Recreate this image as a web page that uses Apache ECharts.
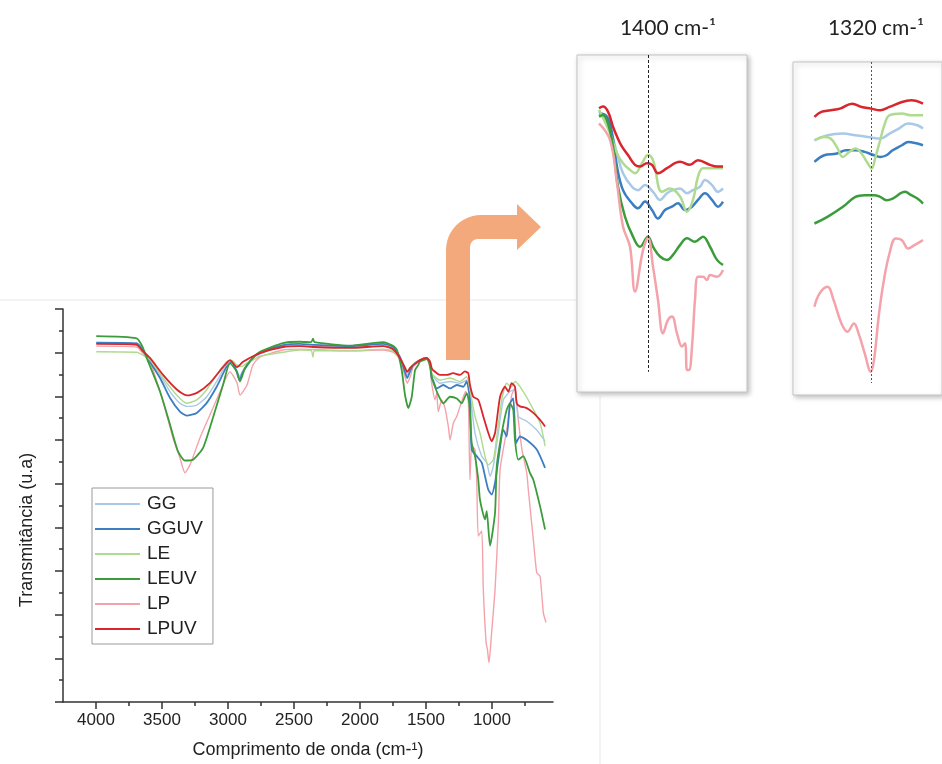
<!DOCTYPE html>
<html>
<head>
<meta charset="utf-8">
<script src="https://cdn.jsdelivr.net/npm/echarts@6/dist/echarts.min.js"></script>
<style>
  html, body { margin: 0; padding: 0; background: #fff; }
  #chart { width: 942px; height: 764px; }
</style>
</head>
<body>
<div id="chart"></div>
<script>
// series names and colours
const names = ['GG', 'GGUV', 'LE', 'LEUV', 'LP', 'LPUV'];
const colors = ['#a9c9e6', '#3c7ec2', '#aedb8e', '#3b9c3b', '#f4a3ab', '#d8262c'];

// main spectrum: [wavenumber cm-1, transmittance (u.a)]
const ggMain = [[3998,8.23],[3692,8.22],[3650,8.10],[3616,7.95],[3515,7.49],[3439,7.11],[3364,6.84],[3313,6.77],[3237,6.80],[3161,6.99],[3086,7.34],[3010,7.74],[2972,7.81],[2934,7.60],[2914,7.45],[2886,7.60],[2811,7.88],[2758,7.97],[2583,8.15],[2455,8.16],[2356,8.15],[2076,8.12],[1826,8.16],[1750,8.10],[1697,7.90],[1659,7.62],[1642,7.49],[1620,7.60],[1596,7.72],[1545,7.83],[1495,7.88],[1470,7.78],[1457,7.50],[1447,7.45],[1394,7.30],[1318,7.34],[1242,7.30],[1192,7.37],[1167,7.07],[1129,6.16],[1078,5.63],[1040,5.48],[1015,5.17],[990,5.40],[952,6.16],[914,6.92],[864,7.11],[826,7.15],[801,6.54],[737,6.43],[661,6.23],[598,5.97]];
const gguvMain = [[3998,8.23],[3692,8.21],[3650,8.08],[3616,7.91],[3515,7.42],[3439,6.96],[3364,6.65],[3313,6.56],[3237,6.62],[3161,6.85],[3086,7.22],[3010,7.68],[2972,7.79],[2934,7.56],[2914,7.37],[2886,7.56],[2811,7.88],[2758,8.00],[2583,8.17],[2455,8.20],[2356,8.18],[2076,8.15],[1826,8.20],[1750,8.13],[1697,7.90],[1659,7.55],[1642,7.42],[1620,7.58],[1596,7.72],[1545,7.83],[1495,7.88],[1470,7.76],[1457,7.42],[1447,7.37],[1419,7.18],[1369,7.26],[1318,7.18],[1267,7.26],[1217,7.22],[1192,7.34],[1167,6.92],[1154,5.78],[1116,5.63],[1078,5.48],[1053,5.17],[1028,4.86],[1003,4.75],[977,5.02],[952,5.55],[914,6.23],[889,6.08],[864,6.84],[839,6.95],[818,5.93],[788,6.08],[737,6.00],[661,5.78],[598,5.36]];
const leMain = [[3998,8.02],[3692,8.01],[3667,7.98],[3591,7.83],[3492,7.42],[3389,7.03],[3313,6.84],[3237,6.92],[3161,7.15],[3086,7.49],[3010,7.79],[2972,7.83],[2934,7.72],[2896,7.68],[2858,7.76],[2811,7.83],[2758,7.92],[2583,8.01],[2455,8.06],[2370,8.05],[2356,7.90],[2345,8.05],[2076,8.04],[1826,8.08],[1750,8.04],[1697,7.88],[1659,7.66],[1642,7.58],[1620,7.66],[1596,7.74],[1545,7.83],[1495,7.88],[1470,7.80],[1457,7.55],[1447,7.49],[1394,7.37],[1318,7.42],[1242,7.34],[1192,7.45],[1167,7.15],[1129,6.54],[1091,6.16],[1053,5.63],[1028,5.43],[990,5.55],[964,6.08],[926,6.92],[889,7.30],[851,7.22],[826,7.34],[788,7.22],[712,6.84],[636,6.39],[598,5.86]];
const leuvMain = [[3998,8.38],[3692,8.33],[3650,8.15],[3616,7.88],[3515,7.11],[3439,6.35],[3379,5.74],[3326,5.53],[3265,5.55],[3189,5.82],[3114,6.51],[3038,7.26],[2985,7.76],[2932,7.56],[2909,7.34],[2871,7.65],[2811,7.88],[2758,8.02],[2583,8.22],[2455,8.25],[2370,8.24],[2356,8.32],[2345,8.24],[2076,8.16],[1826,8.24],[1750,8.16],[1720,8.06],[1684,7.60],[1659,7.03],[1634,6.73],[1608,6.99],[1583,7.60],[1558,7.72],[1545,7.80],[1495,7.85],[1470,7.70],[1457,7.45],[1447,7.34],[1407,7.03],[1369,6.84],[1318,6.99],[1267,6.95],[1230,6.84],[1192,7.07],[1172,6.84],[1154,5.93],[1129,5.63],[1104,5.09],[1091,4.63],[1053,4.18],[1040,4.37],[1015,3.58],[977,4.34],[964,5.40],[926,6.16],[889,6.69],[864,6.84],[839,6.69],[826,6.00],[801,5.55],[763,5.63],[712,5.24],[687,5.09],[636,4.48],[598,3.95]];
const lpMain = [[3998,8.15],[3692,8.13],[3650,8.00],[3591,7.79],[3492,6.88],[3417,6.05],[3364,5.59],[3326,5.25],[3288,5.43],[3212,6.05],[3136,6.58],[3061,7.10],[2985,7.56],[2932,7.31],[2909,7.03],[2856,7.26],[2811,7.72],[2758,7.90],[2583,8.06],[2455,8.08],[2076,8.04],[1826,8.06],[1750,8.01],[1697,7.85],[1659,7.45],[1642,7.30],[1620,7.45],[1596,7.68],[1545,7.80],[1495,7.85],[1470,7.65],[1457,7.30],[1432,6.92],[1419,7.07],[1407,6.65],[1381,6.92],[1356,6.73],[1331,6.31],[1318,6.00],[1293,6.39],[1267,6.54],[1242,6.77],[1217,6.99],[1200,7.11],[1180,6.95],[1167,5.09],[1154,5.86],[1129,5.78],[1116,5.09],[1104,3.80],[1078,3.92],[1066,2.58],[1045,1.36],[1035,1.21],[1023,0.90],[1003,1.59],[977,2.58],[952,4.10],[939,5.32],[902,6.00],[876,6.46],[851,7.03],[826,7.19],[801,6.46],[773,5.78],[737,5.25],[725,4.86],[687,3.72],[661,2.96],[636,2.88],[611,2.04],[591,1.82]];
const lpuvMain = [[3998,8.20],[3692,8.18],[3650,8.05],[3591,7.88],[3492,7.49],[3386,7.15],[3311,7.02],[3235,7.08],[3136,7.31],[3038,7.67],[2985,7.83],[2932,7.67],[2886,7.79],[2758,7.99],[2583,8.13],[2455,8.15],[2356,8.13],[2076,8.11],[1826,8.15],[1750,8.08],[1697,7.88],[1659,7.65],[1642,7.56],[1620,7.65],[1596,7.72],[1545,7.83],[1495,7.88],[1470,7.80],[1457,7.65],[1447,7.60],[1394,7.49],[1343,7.49],[1295,7.53],[1242,7.49],[1205,7.57],[1180,7.53],[1167,7.26],[1142,6.99],[1104,6.92],[1066,6.54],[1028,6.16],[1003,5.97],[977,6.16],[939,6.99],[902,7.22],[876,7.11],[851,7.30],[826,7.22],[813,6.84],[788,6.77],[737,6.73],[687,6.62],[636,6.46],[598,6.31]];

// inset "1400 cm-1"
const gg1400 = [[1449,8.32],[1440,8.00],[1431,7.08],[1425,6.49],[1416,6.09],[1410,5.99],[1403,6.14],[1395,5.94],[1388,5.70],[1381,5.90],[1375,5.99],[1368,6.04],[1361,5.90],[1355,5.99],[1348,6.09],[1343,6.29],[1336,6.14],[1330,5.94],[1325,6.04]];
const gguv1400 = [[1449,8.27],[1441,8.17],[1436,7.68],[1431,6.69],[1425,5.99],[1416,5.60],[1410,5.45],[1403,5.65],[1396,5.40],[1390,5.15],[1383,5.40],[1376,5.50],[1370,5.60],[1363,5.40],[1356,5.50],[1350,5.70],[1343,5.90],[1336,5.70],[1330,5.50],[1325,5.65]];
const le1400 = [[1449,8.37],[1438,7.68],[1431,7.08],[1425,6.79],[1418,6.59],[1413,6.49],[1406,6.79],[1400,7.03],[1395,6.88],[1386,5.94],[1378,6.04],[1368,5.80],[1361,5.35],[1355,5.70],[1350,6.39],[1345,6.64],[1335,6.64],[1325,6.64]];
const leuv1400 = [[1449,8.17],[1445,8.22],[1440,7.97],[1435,7.28],[1430,6.09],[1423,5.20],[1415,4.61],[1408,4.31],[1400,4.61],[1395,4.31],[1388,4.02],[1381,3.92],[1375,4.07],[1368,4.36],[1361,4.56],[1353,4.46],[1345,4.61],[1338,4.31],[1331,3.92],[1325,3.77]];
const lp1400 = [[1449,7.97],[1438,7.48],[1431,6.19],[1425,4.91],[1418,4.31],[1413,2.98],[1405,4.21],[1400,4.56],[1395,3.72],[1390,2.73],[1385,1.74],[1380,2.14],[1376,2.24],[1371,1.74],[1366,1.35],[1363,1.45],[1361,0.65],[1359,0.65],[1356,1.35],[1353,2.73],[1350,3.42],[1345,3.42],[1341,3.32],[1338,3.47],[1331,3.42],[1325,3.62]];
const lpuv1400 = [[1449,8.42],[1445,8.47],[1440,8.32],[1435,7.87],[1431,7.58],[1426,7.28],[1420,7.03],[1413,6.74],[1408,6.69],[1401,6.79],[1396,6.74],[1390,6.49],[1381,6.64],[1368,6.83],[1358,6.74],[1350,6.88],[1338,6.74],[1331,6.69],[1325,6.69]];

// inset "1320 cm-1"
const gg1320 = [[1350.5,7.65],[1343.5,7.80],[1335.2,7.85],[1328.5,7.80],[1321.8,7.75],[1315.2,7.70],[1310.2,7.85],[1305.2,8.00],[1300.2,8.15],[1295.2,8.10],[1292.2,8.00]];
const gguv1320 = [[1350.5,7.00],[1345.2,7.20],[1338.5,7.25],[1333.5,7.35],[1328.5,7.35],[1323.5,7.30],[1318.5,7.20],[1315.2,7.15],[1311.8,7.20],[1308.5,7.35],[1303.5,7.50],[1300.2,7.60],[1295.2,7.55],[1292.2,7.50]];
const le1320 = [[1350.5,7.65],[1345.2,7.75],[1341.8,7.70],[1338.5,7.45],[1335.2,7.15],[1331.8,7.30],[1328.5,7.40],[1325.2,7.25],[1321.8,6.95],[1319.8,6.80],[1317.7,7.15],[1315.2,7.65],[1312.7,8.15],[1310.2,8.40],[1303.5,8.45],[1298.5,8.40],[1292.2,8.40]];
const leuv1320 = [[1350.5,5.15],[1343.5,5.35],[1335.2,5.65],[1328.5,5.95],[1323.5,6.00],[1318.5,6.00],[1315.2,5.95],[1311.8,5.85],[1308.5,5.90],[1301.8,6.10],[1298.5,6.00],[1295.2,5.90],[1292.2,5.75]];
const lp1320 = [[1350.5,2.65],[1347.7,3.05],[1343.5,3.25],[1340.2,2.85],[1336,2.15],[1332.7,1.90],[1329.3,2.15],[1326.8,1.85],[1323.5,1.25],[1320.2,0.70],[1318.5,1.05],[1316,2.35],[1313.5,3.35],[1310.2,4.25],[1306.8,4.70],[1303.5,4.65],[1300.2,4.40],[1296.8,4.50],[1292.2,4.65]];
const lpuv1320 = [[1350.5,8.35],[1346.8,8.50],[1341.8,8.55],[1336.8,8.60],[1330.2,8.75],[1325.2,8.65],[1320.2,8.60],[1315.2,8.55],[1310.2,8.65],[1303.5,8.80],[1298.5,8.85],[1292.2,8.75]];

// axis ticks
const xTickLabels = [1000, 1500, 2000, 2500, 3000, 3500, 4000];
const xMinorTicks = [750, 1250, 1750, 2250, 2750, 3250, 3750];

const mainSets = [ggMain, gguvMain, leMain, leuvMain, lpMain, lpuvMain];
const sets1400 = [gg1400, gguv1400, le1400, leuv1400, lp1400, lpuv1400];
const sets1320 = [gg1320, gguv1320, le1320, leuv1320, lp1320, lpuv1320];

const chart = echarts.init(document.getElementById('chart'));

// bent arrow outline
function arrowPoints() {
  const pts = [[446, 360], [446, 250]];
  for (let i = 1; i < 12; i++) {
    const a = Math.PI + (i / 12) * Math.PI / 2;
    pts.push([481 + 35 * Math.cos(a), 250 + 35 * Math.sin(a)]);
  }
  pts.push([481, 215], [517, 215], [517, 204], [541, 227], [517, 250], [517, 239], [478, 239]);
  for (let i = 1; i < 6; i++) {
    const a = 1.5 * Math.PI - (i / 6) * Math.PI / 2;
    pts.push([478 + 8 * Math.cos(a), 247 + 8 * Math.sin(a)]);
  }
  pts.push([470, 247], [470, 360]);
  return pts;
}

const axisColor = '#333';
const font = 'Liberation Sans';

const series = [];
names.forEach((n, i) => {
  series.push({
    name: n, type: 'line', xAxisIndex: 0, yAxisIndex: 0,
    data: mainSets[i], showSymbol: false, smooth: 0.2,
    lineStyle: { width: i % 2 ? 1.8 : 1.4, color: colors[i] },
    itemStyle: { color: colors[i] }, z: i === 4 ? 1 : 3
  });
});
names.forEach((n, i) => {
  series.push({
    name: n, type: 'line', xAxisIndex: 2, yAxisIndex: 1,
    data: sets1400[i], showSymbol: false, smooth: 0.4,
    lineStyle: { width: 2.5, color: colors[i] },
    itemStyle: { color: colors[i] },
    markLine: i === 0 ? {
      symbol: 'none', silent: true, label: { show: false },
      lineStyle: { type: [3, 2], color: '#222', width: 1 },
      data: [[{ coord: [1400, 10] }, { coord: [1400, 0.6] }]]
    } : undefined
  });
});
names.forEach((n, i) => {
  series.push({
    name: n, type: 'line', xAxisIndex: 3, yAxisIndex: 2,
    data: sets1320[i], showSymbol: false, smooth: 0.4,
    lineStyle: { width: 2.5, color: colors[i] },
    itemStyle: { color: colors[i] },
    markLine: i === 0 ? {
      symbol: 'none', silent: true, label: { show: false },
      lineStyle: { type: [2, 2], color: '#555', width: 1 },
      data: [[{ coord: [1320, 10] }, { coord: [1320, 0.36] }]]
    } : undefined
  });
});

const insetGrid = {
  show: true, backgroundColor: '#fff', borderColor: '#c4c4c4', borderWidth: 1,
  shadowBlur: 5, shadowColor: 'rgba(0,0,0,0.25)', shadowOffsetX: 2, shadowOffsetY: 2
};

const option = {
  animation: false,
  backgroundColor: '#fff',
  textStyle: { fontFamily: font },
  grid: [
    { left: 63, top: 309, width: 490, height: 394 },
    Object.assign({ left: 577, top: 55, width: 170, height: 337 }, insetGrid),
    Object.assign({ left: 793, top: 62, width: 160, height: 333 }, insetGrid)
  ],
  legend: {
    data: names, orient: 'vertical', left: 92, top: 488,
    padding: [6, 10, 5, 3], itemGap: 5, itemWidth: 45, itemHeight: 2,
    icon: 'rect', borderColor: '#9a9a9a', borderWidth: 1, selectedMode: false,
    textStyle: { fontFamily: font, fontSize: 19, color: '#222', lineHeight: 20, padding: [0, 0, 0, 2] }
  },
  xAxis: [
    {
      gridIndex: 0, type: 'value', min: 538, max: 4250, inverse: true,
      name: 'Comprimento de onda (cm-\u00B9)', nameLocation: 'middle', nameGap: 39,
      nameTextStyle: { fontFamily: font, fontSize: 18, color: '#222' },
      axisLine: { show: true, onZero: false, lineStyle: { color: axisColor, width: 1.5 } },
      axisTick: { show: true, customValues: xTickLabels, length: 7, lineStyle: { color: axisColor, width: 1.5 } },
      axisLabel: {
        customValues: xTickLabels, margin: 10, fontSize: 17, color: '#222', fontFamily: font,
        formatter: v => String(v)
      },
      splitLine: { show: false }
    },
    {
      gridIndex: 0, type: 'value', min: 538, max: 4250, inverse: true, position: 'bottom',
      axisLine: { show: false },
      axisTick: { show: true, customValues: xMinorTicks, length: 4, lineStyle: { color: axisColor, width: 1.5 } },
      axisLabel: { show: false }, splitLine: { show: false }
    },
    { gridIndex: 1, type: 'value', min: 1301, max: 1471, inverse: true, show: false },
    { gridIndex: 2, type: 'value', min: 1282, max: 1362, inverse: true, show: false }
  ],
  yAxis: [
    {
      gridIndex: 0, type: 'value', min: 0, max: 9, interval: 1,
      axisLine: { show: true, lineStyle: { color: axisColor, width: 1.5 } },
      axisTick: { show: true, length: 8, lineStyle: { color: axisColor, width: 1.5 } },
      minorTick: { show: true, splitNumber: 2, length: 4, lineStyle: { color: axisColor, width: 1.5 } },
      axisLabel: { show: false }, splitLine: { show: false }
    },
    { gridIndex: 1, type: 'value', min: 0, max: 10, show: false },
    { gridIndex: 2, type: 'value', min: 0, max: 10, show: false }
  ],
  graphic: [
    { type: 'line', shape: { x1: 0, y1: 300, x2: 576, y2: 300 }, style: { stroke: '#e8e8e8', lineWidth: 1 }, z: -1 },
    { type: 'line', shape: { x1: 600, y1: 396, x2: 600, y2: 764 }, style: { stroke: '#e8e8e8', lineWidth: 1 }, z: -1 },
    { type: 'polygon', shape: { points: arrowPoints() }, style: { fill: '#f3a97b' }, z: 10 },
    {
      type: 'text', x: 27, y: 530, rotation: Math.PI / 2,
      style: { text: 'Transmitância (u.a)', fontFamily: font, fontSize: 18, fill: '#222', align: 'center', verticalAlign: 'middle' }
    },
    {
      type: 'text', x: 668, y: 28,
      style: { text: '1400 cm-\u00B9', fontFamily: 'Lato', fontSize: 21, fill: '#222', align: 'center', verticalAlign: 'middle' }
    },
    {
      type: 'text', x: 876, y: 28,
      style: { text: '1320 cm-\u00B9', fontFamily: 'Lato', fontSize: 21, fill: '#222', align: 'center', verticalAlign: 'middle' }
    }
  ],
  series: series
};

chart.setOption(option);
</script>
</body>
</html>
